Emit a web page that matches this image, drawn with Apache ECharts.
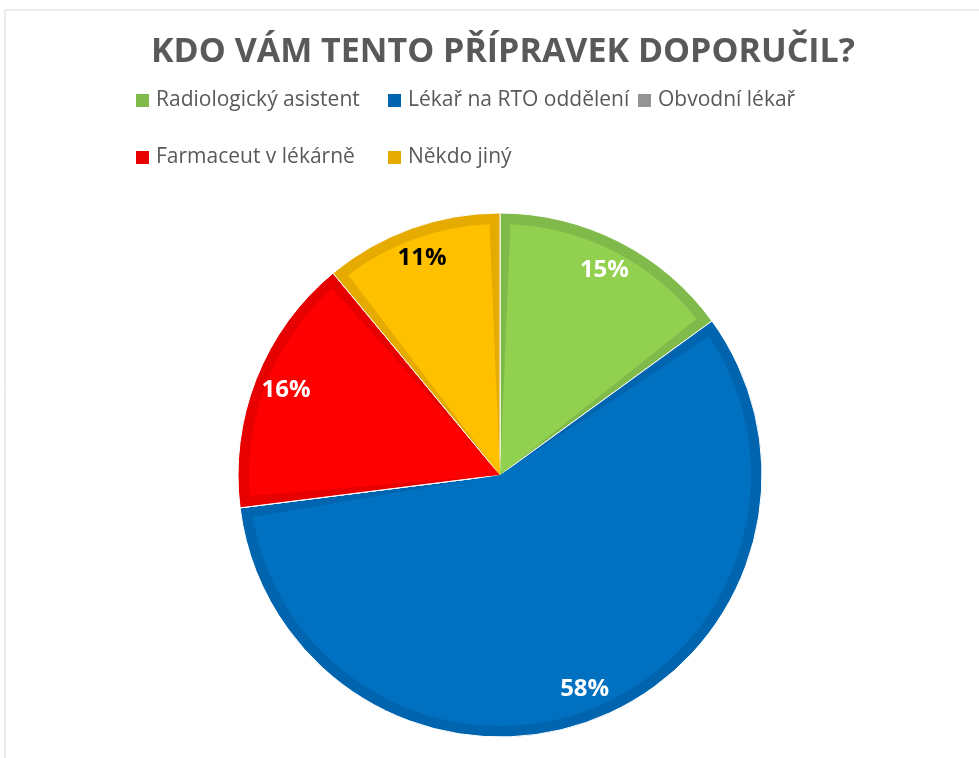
<!DOCTYPE html>
<html>
<head>
<meta charset="utf-8">
<script src="https://cdn.jsdelivr.net/npm/echarts@6/dist/echarts.min.js"></script>
<style>
  html, body { margin: 0; padding: 0; background: #fff; }
  #chart { width: 979px; height: 758px; }
</style>
</head>
<body>
<div id="chart"></div>
<script>
// data
const categories = ['Radiologický asistent', 'Lékař na RTO oddělení', 'Obvodní lékař', 'Farmaceut v lékárně', 'Někdo jiný']
const shares = [15, 58, 0, 16, 11]

// fill colour and darker edge colour of each slice
const fillColors = ['#92D050', '#0070C0', '#A5A5A5', '#FF0000', '#FFC000']
const edgeColors = ['#7FBA4A', '#0064AE', '#949494', '#E60000', '#E6AB00']
const labelColors = ['#fff', '#fff', '#fff', '#fff', '#000']

// legend grid: column left edge and row top for each item
const legendLeft = [129, 381, 631, 129, 381]
const legendTop = [85, 85, 85, 142, 142]

const chart = echarts.init(document.getElementById('chart'))

const center = [500, 475]

chart.setOption({
  backgroundColor: '#fff',
  animation: false,
  title: {
    text: 'KDO VÁM TENTO PŘÍPRAVEK DOPORUČIL?',
    left: 146,
    top: 30,
    textStyle: { color: '#595959', fontSize: 34, fontWeight: 'bold', fontFamily: 'Open Sans' }
  },
  // one legend per item so the items sit in columns
  legend: categories.map((name, i) => ({
    data: [name],
    left: legendLeft[i],
    top: legendTop[i],
    itemWidth: 15,
    itemHeight: 15,
    icon: 'rect',
    selectedMode: false,
    textStyle: { color: '#595959', fontSize: 21, fontFamily: 'Open Sans', padding: [0, 0, 0, 1] }
  })),
  graphic: [
    // outer frame of the chart area
    { type: 'rect', shape: { x: 5, y: 10, width: 1000, height: 800 }, style: { fill: 'none', stroke: '#D9D9D9', lineWidth: 1 }, silent: true }
  ],
  series: [
    {
      // darker edges
      type: 'pie',
      center: center,
      radius: 262,
      startAngle: 90,
      silent: true,
      label: { show: false },
      itemStyle: { borderColor: '#fff', borderWidth: 1 },
      data: categories.map((name, i) => ({ name, value: shares[i], itemStyle: { color: edgeColors[i] } }))
    },
    {
      // lighter fills, inset from the edges
      type: 'pie',
      center: center,
      radius: 251,
      startAngle: 90,
      padAngle: 4.8,
      silent: true,
      label: { show: false },
      data: categories.map((name, i) => ({ name, value: shares[i] === 0 ? '-' : shares[i], itemStyle: { color: fillColors[i] } }))
    },
    {
      // percentage labels
      type: 'pie',
      center: center,
      radius: [192, 262],
      startAngle: 90,
      silent: true,
      itemStyle: { color: 'rgba(0,0,0,0)' },
      label: {
        show: true,
        position: 'inside',
        fontSize: 24,
        fontWeight: 'bold',
        fontFamily: 'Open Sans',
        formatter: p => (p.value ? p.value + '%' : '')
      },
      labelLine: { show: false },
      data: categories.map((name, i) => ({ name, value: shares[i], label: { color: labelColors[i] } }))
    }
  ]
})
</script>
</body>
</html>
